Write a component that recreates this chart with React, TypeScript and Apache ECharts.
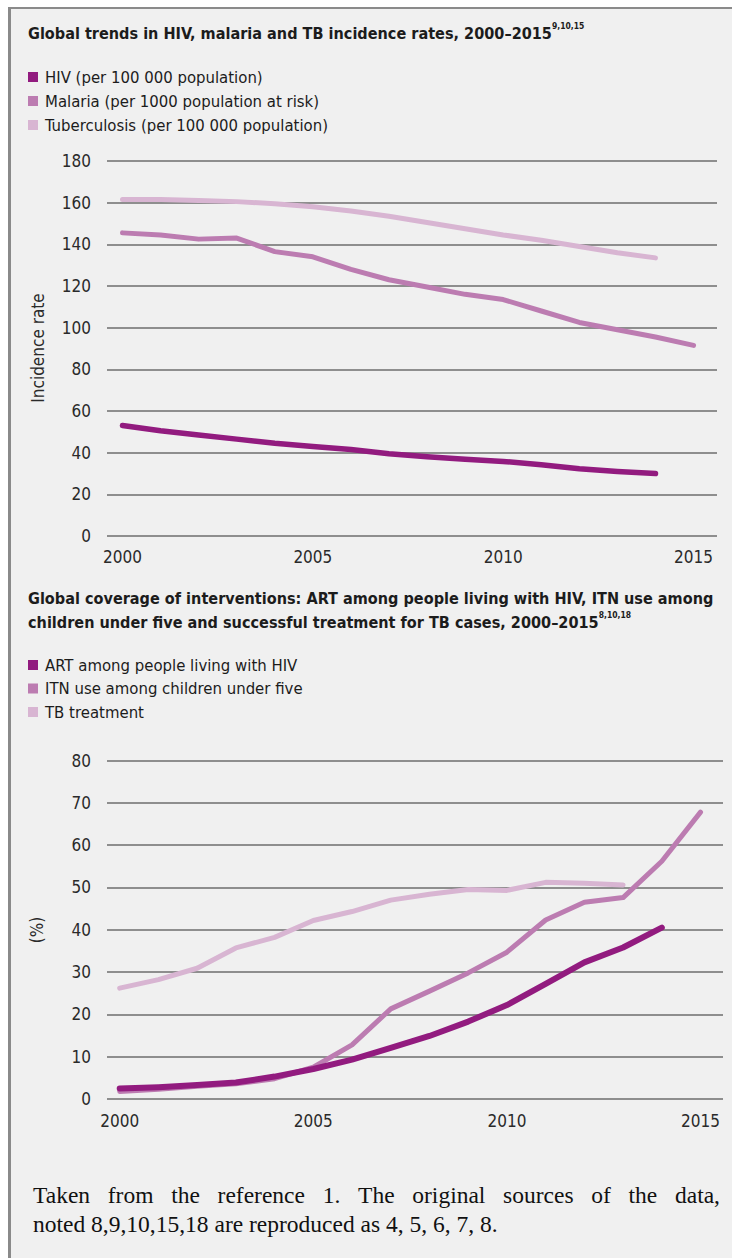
import React, { useEffect, useRef } from "react";
import * as echarts from "echarts";

// ---- Data ----
const incidenceYears = [2000, 2001, 2002, 2003, 2004, 2005, 2006, 2007, 2008, 2009, 2010, 2011, 2012, 2013, 2014, 2015];
const hivIncidence = [53, 50.5, 48.5, 46.5, 44.5, 43, 41.5, 39.5, 38, 36.8, 35.8, 34.2, 32.3, 31, 30];
const malariaIncidence = [145.5, 144.5, 142.5, 143, 136.5, 134, 128, 123, 119.5, 116, 113.5, 108, 102.5, 99, 95.5, 91.5];
const tbIncidence = [161.5, 161.5, 161, 160.5, 159.5, 158, 156, 153.5, 150.5, 147.5, 144.5, 142, 139, 136, 133.5];

const coverageYears = [2000, 2001, 2002, 2003, 2004, 2005, 2006, 2007, 2008, 2009, 2010, 2011, 2012, 2013, 2014, 2015];
const artCoverage = [2.5, 2.8, 3.3, 3.9, 5.3, 7.1, 9.3, 12.1, 14.9, 18.3, 22.2, 27.2, 32.3, 35.8, 40.5];
const itnUse = [1.8, 2.3, 3, 3.6, 4.8, 7.5, 12.8, 21.3, 25.5, 29.8, 34.7, 42.3, 46.5, 47.6, 56.2, 67.8];
const tbTreatment = [26.2, 28.2, 30.9, 35.7, 38.2, 42.2, 44.3, 47, 48.4, 49.5, 49.3, 51.2, 51, 50.6];

const xTickYears = [2000, 2005, 2010, 2015];

const names1 = ["HIV (per 100 000 population)", "Malaria (per 1000 population at risk)", "Tuberculosis (per 100 000 population)"];
const names2 = ["ART among people living with HIV", "ITN use among children under five", "TB treatment"];

const title1 = "Global trends in HIV, malaria and TB incidence rates, 2000\u20132015";
const title1Sup = "9,10,15";
const title2Line1 = "Global coverage of interventions: ART among people living with HIV, ITN use among";
const title2Line2 = "children under five and successful treatment for TB cases, 2000\u20132015";
const title2Sup = "8,10,18";
const footerLine1 = "Taken from the reference 1. The original sources of the data,";
const footerLine2 = "noted 8,9,10,15,18 are reproduced as 4, 5, 6, 7, 8.";

const C_DARK = "#921b7f";
const C_MID = "#bc7cb1";
const C_LIGHT = "#d8b5d2";
const F = '"DejaVu Sans Condensed", "Liberation Sans Narrow", sans-serif';
const SERIF_NAME = "Liberation Serif";
const SERIF = '"Liberation Serif", serif';
const TXT = "#1c1c1c";

const pairs = (xs: number[], ys: number[]) => ys.map((v, i) => [xs[i], v]);

function measure(text: string, size: number): number {
  const span = document.createElement("span");
  span.style.position = "absolute";
  span.style.visibility = "hidden";
  span.style.whiteSpace = "pre";
  span.style.fontFamily = `"${SERIF_NAME}", serif`;
  span.style.fontSize = size + "px";
  span.textContent = text;
  document.body.appendChild(span);
  const w = span.getBoundingClientRect().width;
  document.body.removeChild(span);
  return w;
}

export default function App() {
  const ref = useRef<HTMLDivElement>(null);
  useEffect(() => {
    if (!ref.current) return;
    const chart = echarts.init(ref.current, null, { renderer: "svg" });

    // justify first footer line
    const fs = 23.5;
    const words = footerLine1.split(" ");
    const widths = words.map((w) => measure(w, fs));
    const total = widths.reduce((a, b) => a + b, 0);
    const x0 = 33;
    const x1 = 720;
    const gap = (x1 - x0 - total) / (words.length - 1);
    const footerEls: any[] = [];
    let cx = x0;
    words.forEach((w, i) => {
      footerEls.push({
        type: "text",
        x: cx,
        y: 1195,
        style: { text: w, fontSize: fs, fontFamily: SERIF, fill: "#111", align: "left", verticalAlign: "middle" },
      });
      cx += widths[i] + gap;
    });
    footerEls.push({
      type: "text",
      x: x0,
      y: 1224,
      style: { text: footerLine2, fontSize: fs, fontFamily: SERIF, fill: "#111", align: "left", verticalAlign: "middle" },
    });

    const axisLabel = { fontSize: 17, fontFamily: F, color: "#2a2a2a" };
    const splitLine = { show: true, lineStyle: { color: "#6e6e6e", width: 1.6 } };
    const titleRich = {
      t: { fontSize: 16.1, fontWeight: "bold", fontFamily: F, color: TXT, lineHeight: 24 },
      s: { fontSize: 8.5, fontWeight: "bold", fontFamily: F, color: TXT, lineHeight: 11, verticalAlign: "top" },
    };
    const lineSeries = (name: string, color: string, width: number, data: any, idx: number) => ({
      name,
      type: "line",
      xAxisIndex: idx,
      yAxisIndex: idx,
      data,
      showSymbol: false,
      symbol: "none",
      itemStyle: { color },
      lineStyle: { color, width, cap: "round", join: "round" },
    });
    const legendText = { fontSize: 16.6, lineHeight: 20, fontFamily: F, color: TXT, padding: [0, 0, 0, 2] };

    chart.setOption({
      animation: false,
      backgroundColor: "transparent",
      title: [
        {
          left: 23,
          top: 16,
          text: `{t|${title1}}{s|${title1Sup}}`,
          textStyle: { rich: titleRich },
        },
        {
          left: 23,
          top: 581,
          text: `{t|${title2Line1}}\n{t|${title2Line2}}{s|${title2Sup}}`,
          textStyle: { rich: titleRich },
        },
      ],
      legend: [
        {
          orient: "vertical",
          left: 23,
          top: 62,
          itemWidth: 10,
          itemHeight: 10,
          itemGap: 4,
          icon: "rect",
          data: names1,
          textStyle: legendText,
        },
        {
          orient: "vertical",
          left: 23,
          top: 650,
          itemWidth: 10,
          itemHeight: 10,
          itemGap: 3.5,
          icon: "rect",
          data: names2,
          textStyle: legendText,
        },
      ],
      grid: [
        { left: 107, right: 15, top: 161, height: 375 },
        { left: 107, right: 9, top: 760.5, height: 338.5 },
      ],
      xAxis: [
        {
          type: "value",
          gridIndex: 0,
          min: 1999.593,
          max: 2015.616,
          axisLine: { show: false },
          axisTick: { show: false },
          splitLine: { show: false },
          axisLabel: { ...axisLabel, customValues: xTickYears, margin: 12, formatter: (v: number) => String(v) },
        },
        {
          type: "value",
          gridIndex: 1,
          min: 1999.672,
          max: 2015.58,
          axisLine: { show: false },
          axisTick: { show: false },
          splitLine: { show: false },
          axisLabel: { ...axisLabel, customValues: xTickYears, margin: 13, formatter: (v: number) => String(v) },
        },
      ],
      yAxis: [
        {
          type: "value",
          gridIndex: 0,
          min: 0,
          max: 180,
          interval: 20,
          axisLine: { show: false },
          axisTick: { show: false },
          splitLine,
          axisLabel: { ...axisLabel, margin: 16 },
        },
        {
          type: "value",
          gridIndex: 1,
          min: 0,
          max: 80,
          interval: 10,
          axisLine: { show: false },
          axisTick: { show: false },
          splitLine,
          axisLabel: { ...axisLabel, margin: 16 },
        },
      ],
      series: [
        lineSeries(names1[2], C_LIGHT, 5, pairs(incidenceYears, tbIncidence), 0),
        lineSeries(names1[1], C_MID, 5, pairs(incidenceYears, malariaIncidence), 0),
        lineSeries(names1[0], C_DARK, 5.5, pairs(incidenceYears, hivIncidence), 0),
        lineSeries(names2[1], C_MID, 5, pairs(coverageYears, itnUse), 1),
        lineSeries(names2[2], C_LIGHT, 5, pairs(coverageYears, tbTreatment), 1),
        lineSeries(names2[0], C_DARK, 6, pairs(coverageYears, artCoverage), 1),
      ],
      graphic: [
        {
          type: "text",
          x: 38,
          y: 348,
          rotation: Math.PI / 2,
          style: { text: "Incidence rate", fontSize: 17, fontFamily: F, fill: "#2a2a2a", align: "center", verticalAlign: "middle" },
        },
        {
          type: "text",
          x: 37,
          y: 930,
          rotation: Math.PI / 2,
          style: { text: "(%)", fontSize: 17, fontFamily: F, fill: "#2a2a2a", align: "center", verticalAlign: "middle" },
        },
        ...footerEls,
      ],
    });
    return () => chart.dispose();
  }, []);

  return (
    <div style={{ position: "fixed", left: 0, top: 0, width: 732, height: 1258, overflow: "hidden", background: "#ffffff" }}>
      <div
        style={{
          position: "absolute",
          left: 8,
          top: 7,
          width: 740,
          height: 1270,
          boxSizing: "border-box",
          borderTop: "2px solid #8a8a8a",
          borderLeft: "3px solid #8a8a8a",
          background: "#f0f0f0",
        }}
      />
      <div ref={ref} style={{ position: "absolute", left: 0, top: 0, width: 732, height: 1258 }} />
    </div>
  );
}
